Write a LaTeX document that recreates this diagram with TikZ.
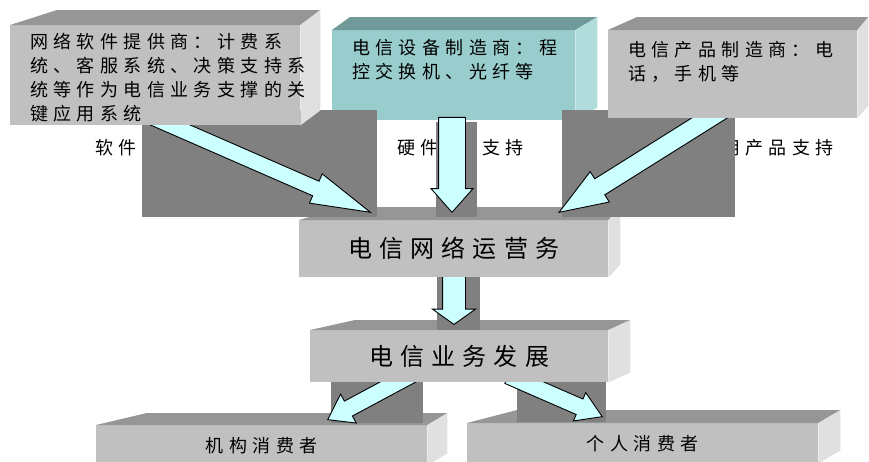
\documentclass[tikz,border=0pt]{standalone}
\usepackage{fontspec}
\setmainfont{Noto Sans CJK SC}[LetterSpace=30]
\usepackage{tikz}
\usetikzlibrary{shapes,arrows,positioning,calc}

\definecolor{greyfront}{HTML}{C0C0C0}
\definecolor{greytop}{HTML}{969696}
\definecolor{greyside}{HTML}{E0E0E0}
\definecolor{tealfront}{HTML}{99CCCC}
\definecolor{tealtop}{HTML}{709999}
\definecolor{tealside}{HTML}{B0DCDC}
\definecolor{shadowgrey}{HTML}{808080}
\definecolor{arrowcyan}{HTML}{CCFFFF}

% top and side faces of a slab: node, back-left shift, back-right shift, rise, colour set
\newcommand{\slab}[5]{%
  \fill[#5top] (#1.north west) -- ++(#2pt,#4pt) -- ([shift={(#3pt,#4pt)}]#1.north east) -- (#1.north east) -- cycle;
  \fill[#5side] (#1.north east) -- ++(#3pt,#4pt) -- ([shift={(#3pt,#4pt)}]#1.south east) -- (#1.south east) -- cycle;}

% block arrow from tail coordinate to tip coordinate
\newcommand{\fatarrow}[3][]{%
  \path let \p1=($(#3)-(#2)$), \n1={veclen(\x1,\y1)}, \n2={atan2(\y1,\x1)} in
    node[fat, #1, minimum height=\n1, rotate=\n2, anchor=tip] at (#3) {};}

\begin{document}
\begin{tikzpicture}[x=1pt, y=-1pt,
    face/.style={rectangle, inner sep=0pt, anchor=north west},
    boxtext/.style={inner sep=0pt, align=left, font=\fontsize{18}{24}\selectfont},
    bigtext/.style={font=\fontsize{24}{30}\selectfont},
    smalltext/.style={font=\fontsize{18}{24}\selectfont},
    tag/.style={inner sep=0pt, anchor=west, font=\fontsize{18}{24}\selectfont},
    shade/.style={fill=shadowgrey},
    fat/.style={single arrow, draw=black, line width=0.9pt, fill=arrowcyan, inner xsep=0pt, minimum width=0pt, single arrow head indent=0pt}]

    \useasboundingbox (0,0) rectangle (869,461);

    % Consumers
    \node[face, smalltext, fill=greyfront, minimum width=331pt, minimum height=40pt] (inst) at (96,425) {机构消费者};
    \slab{inst}{51}{20}{12}{grey}
    \node[face, smalltext, fill=greyfront, minimum width=351pt, minimum height=40pt] (person) at (467,423) {个人消费者};
    \slab{person}{50}{22}{13}{grey}
    \fill[shade] (331,382) rectangle (423,423);
    \fill[shade] (517,382) rectangle (606,422);

    % Business development -> consumers
    \coordinate (a5s) at (411,375);
    \coordinate (a5e) at (327,420);
    \coordinate (a6s) at (509,376);
    \coordinate (a6e) at (603,417);
    \fatarrow[inner ysep=8pt, single arrow head extend=8pt, single arrow tip angle=70]{a5s}{a5e}
    \fatarrow[inner ysep=8pt, single arrow head extend=7pt, single arrow tip angle=64]{a6s}{a6e}
    \node[face, bigtext, fill=greyfront, minimum width=298pt, minimum height=52pt] (biz) at (310,330) {电信业务发展};
    \slab{biz}{45}{22}{10}{grey}

    % Network operation -> business
    \fill[shade] (437,273) rectangle (480,330);
    \coordinate (a4s) at (454,268);
    \coordinate (a4e) at (454,325);
    \fatarrow[inner ysep=11pt, single arrow head extend=10pt, single arrow tip angle=109]{a4s}{a4e}
    \node[face, bigtext, fill=greyfront, minimum width=309pt, minimum height=57pt] (ops) at (299,220) {电信网络运营务};
    \slab{ops}{45}{12}{13}{grey}

    % Hardware supplier
    \node[face, fill=tealfront, minimum width=243pt, minimum height=90pt] (hw) at (332,30) {};
    \slab{hw}{18}{22}{13}{teal}
    \node[boxtext, below right=9pt and 20pt of hw.north west] (hwtext) {电信设备制造商：程\\控交换机、光纤等};

    % Support labels
    \node[tag] (swtag) at (95,148) {软件};
    \node[tag] (hwtag) at (397,148) {硬件};
    \node[tag] (hwtag2) at (482,148) {支持};
    \node[tag] (phtag) at (722,148) {用产品支持};

    \fill[shade] (142,110) rectangle (377,217);
    \fill[shade] (436,122) rectangle (477,217);
    \fill[shade] (562,110) rectangle (735,217);

    % Suppliers -> network operation
    \coordinate (a1s) at (152,117);
    \coordinate (a1e) at (372,213);
    \coordinate (a2s) at (452,118);
    \coordinate (a2e) at (452,213);
    \coordinate (a3s) at (727,107);
    \coordinate (a3e) at (558,213);
    \fatarrow[inner ysep=7.5pt, single arrow head extend=8pt, single arrow tip angle=30]{a1s}{a1e}
    \fatarrow[inner ysep=13pt, single arrow head extend=7.5pt, single arrow tip angle=83]{a2s}{a2e}
    \fatarrow[inner ysep=9pt, single arrow head extend=8.5pt, single arrow tip angle=41]{a3s}{a3e}

    % Software supplier
    \node[face, fill=greyfront, minimum width=290pt, minimum height=100pt] (sw) at (10,25) {};
    \slab{sw}{47}{20}{15}{grey}
    \node[boxtext, below right=8pt and 20pt of sw.north west] (swtext) {网络软件提供商：计费系\\统、客服系统、决策支持系\\统等作为电信业务支撑的关\\键应用系统};

    % Product supplier
    \node[face, fill=greyfront, minimum width=249pt, minimum height=88pt] (ph) at (608,30) {};
    \slab{ph}{29}{11}{13}{grey}
    \node[boxtext, below right=11pt and 20pt of ph.north west] (phtext) {电信产品制造商：电\\话，手机等};

\end{tikzpicture}
\end{document}
